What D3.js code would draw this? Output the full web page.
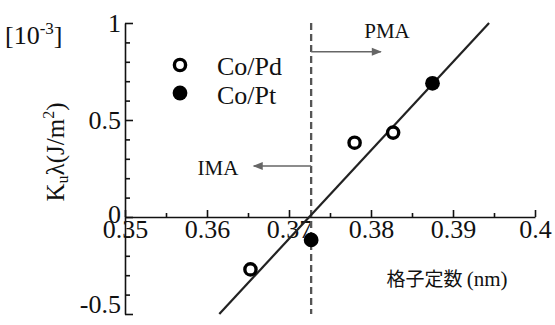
<!DOCTYPE html>
<html>
<head>
<meta charset="utf-8">
<script src="https://cdn.jsdelivr.net/npm/d3@7"></script>
<style>
  html, body { margin: 0; padding: 0; background: #fff; }
  svg { display: block; }
  text { font-family: "Liberation Serif", "Times New Roman", serif; fill: #111; }
</style>
</head>
<body>
<svg id="chart" width="555" height="325"></svg>
<script>
// Lattice constant (nm) vs Ku·λ (10^-3 J/m^2)
const coPdX = [0.3653, 0.3780, 0.3827];
const coPdY = [-0.27, 0.383, 0.435];
const coPtX = [0.3727, 0.3875];
const coPtY = [-0.118, 0.689];
const fitX = [0.3615, 0.3944];
const fitY = [-0.5, 1.0];
const boundaryX = 0.3727;
const xTicks = [0.35, 0.36, 0.37, 0.38, 0.39, 0.40];
const xMinorTicks = [0.355, 0.365, 0.375, 0.385, 0.395];
const yTicks = [-0.5, 0, 0.5, 1];
const yMinorTicks = [-0.4, -0.3, -0.2, -0.1, 0.1, 0.2, 0.3, 0.4, 0.6, 0.7, 0.8, 0.9];
const legendLabels = ["Co/Pd", "Co/Pt"];

const svg = d3.select("#chart");
const x = d3.scaleLinear().domain([0.35, 0.40]).range([125, 535]);
const y = d3.scaleLinear().domain([-0.5, 1]).range([314, 23]);

// y axis
const yAxis = svg.append("g").attr("transform", `translate(${x(0.35)},0)`)
  .call(d3.axisLeft(y).tickValues(yTicks).tickSizeInner(-8).tickSizeOuter(0).tickPadding(4)
    .tickFormat(d => d === 0 ? "0" : String(d)));
svg.append("g").attr("transform", `translate(${x(0.35)},0)`)
  .call(d3.axisLeft(y).tickValues(yMinorTicks).tickSizeInner(-5).tickSizeOuter(0).tickFormat(""))
  .call(g => g.select(".domain").remove());

// x axis along y = 0
const xAxis = svg.append("g").attr("transform", `translate(0,${y(0)})`)
  .call(d3.axisBottom(x).tickValues(xTicks).tickSizeInner(-7).tickSizeOuter(0).tickPadding(3)
    .tickFormat(d => String(+d.toFixed(2))));
svg.append("g").attr("transform", `translate(0,${y(0)})`)
  .call(d3.axisBottom(x).tickValues(xMinorTicks).tickSizeInner(-4).tickSizeOuter(0).tickFormat(""))
  .call(g => g.select(".domain").remove());

svg.selectAll(".domain, .tick line").attr("stroke", "#111").attr("stroke-width", 1.6);
yAxis.selectAll(".tick text").attr("font-size", 26).attr("font-family", "Liberation Serif").attr("fill", "#111")
  .attr("dy", d => d === -0.5 ? "-0.05em" : d === 0 ? "0.2em" : "0.32em");
xAxis.selectAll(".tick text").attr("font-size", 26).attr("font-family", "Liberation Serif").attr("fill", "#111");

// exponent label
const expo = svg.append("text").attr("x", 5).attr("y", 44).attr("font-size", 26);
expo.append("tspan").text("[10");
expo.append("tspan").attr("font-size", 17).attr("dy", -10).text("-3");
expo.append("tspan").attr("dy", 10).text("]");

// y title
const yt = svg.append("text")
  .attr("transform", "translate(64,152) rotate(-90)")
  .attr("text-anchor", "middle").attr("font-size", 25);
yt.append("tspan").text("K");
yt.append("tspan").attr("font-size", 16).attr("dy", 4).text("u");
yt.append("tspan").attr("dy", -4).text("λ(J/m");
yt.append("tspan").attr("font-size", 16).attr("dy", -10).text("2");
yt.append("tspan").attr("dy", 10).text(")");

// x title
const xt = svg.append("text").attr("x", 447).attr("y", 286).attr("text-anchor", "middle");
xt.append("tspan").attr("font-family", "Noto Sans CJK JP").attr("font-size", 19).text("格子定数 ");
xt.append("tspan").attr("font-size", 21).text("(nm)");

// boundary between in-plane and perpendicular anisotropy
svg.append("line")
  .attr("x1", x(boundaryX)).attr("x2", x(boundaryX))
  .attr("y1", y(1)).attr("y2", y(-0.5))
  .attr("stroke", "#555").attr("stroke-width", 2.3).attr("stroke-dasharray", "7,4");

// arrows
const defs = svg.append("defs");
defs.append("marker").attr("id", "ah").attr("viewBox", "0 0 10 10")
  .attr("refX", 9).attr("refY", 5).attr("markerWidth", 15).attr("markerHeight", 10)
  .attr("markerUnits", "userSpaceOnUse").attr("orient", "auto")
  .append("path").attr("d", "M0,1 L10,5 L0,9 Z").attr("fill", "#666");

svg.append("line").attr("x1", x(boundaryX)).attr("x2", x(0.3812))
  .attr("y1", y(0.852)).attr("y2", y(0.852))
  .attr("stroke", "#666").attr("stroke-width", 1.6).attr("marker-end", "url(#ah)");
svg.append("text").attr("x", 387).attr("y", 38).attr("text-anchor", "middle")
  .attr("font-size", 21).text("PMA");

svg.append("line").attr("x1", x(boundaryX)).attr("x2", x(0.3657))
  .attr("y1", y(0.263)).attr("y2", y(0.263))
  .attr("stroke", "#666").attr("stroke-width", 1.6).attr("marker-end", "url(#ah)");
svg.append("text").attr("x", 218).attr("y", 175).attr("text-anchor", "middle")
  .attr("font-size", 21).text("IMA");

// linear fit
svg.append("path")
  .datum(fitX.map((v, i) => [v, fitY[i]]))
  .attr("d", d3.line().x(d => x(d[0])).y(d => y(d[1])))
  .attr("fill", "none").attr("stroke", "#222").attr("stroke-width", 2.2);

// data points
svg.append("g").selectAll("circle").data(coPdX.map((v, i) => [v, coPdY[i]])).join("circle")
  .attr("cx", d => x(d[0])).attr("cy", d => y(d[1])).attr("r", 5.6)
  .attr("fill", "#fff").attr("stroke", "#000").attr("stroke-width", 3.4);
svg.append("g").selectAll("circle").data(coPtX.map((v, i) => [v, coPtY[i]])).join("circle")
  .attr("cx", d => x(d[0])).attr("cy", d => y(d[1])).attr("r", 7.4)
  .attr("fill", "#000");

// legend
svg.append("circle").attr("cx", 180).attr("cy", 65).attr("r", 5.6)
  .attr("fill", "#fff").attr("stroke", "#000").attr("stroke-width", 3.4);
svg.append("circle").attr("cx", 180).attr("cy", 93).attr("r", 7.4).attr("fill", "#000");
svg.selectAll(".legend-text").data(legendLabels).join("text").attr("class", "legend-text")
  .attr("x", 217).attr("y", (d, i) => 75 + i * 29).attr("font-size", 26).text(d => d);
</script>
</body>
</html>
